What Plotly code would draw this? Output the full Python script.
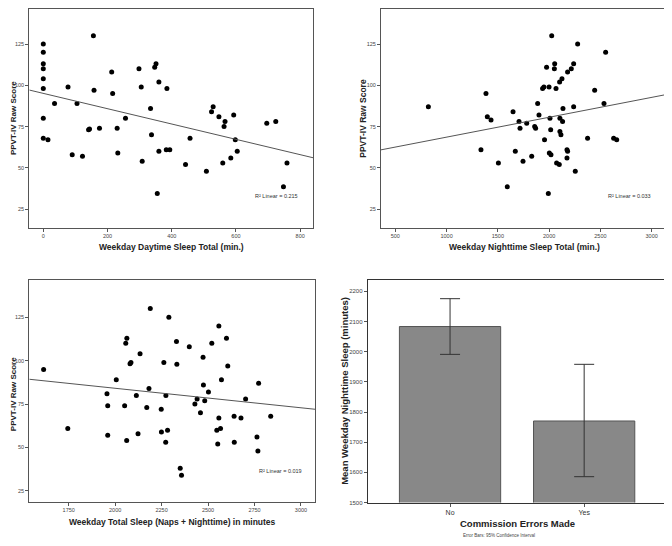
import plotly.graph_objects as go

# ---------------- data ----------------
p1_x = [0, 0, 0, 0, 0, 0, 0, 0, 14.5, 35, 77, 90, 105, 122, 141, 144, 156, 158, 175, 213,
        216, 230, 232, 256, 298, 305, 308, 334, 337, 347, 351, 360, 360, 355, 385, 383, 394,
        443, 457, 508, 524, 529, 547, 563, 566, 559, 584, 593, 598, 604, 696, 724, 759, 748]
p1_y = [125, 120, 113, 110, 104, 98, 80, 68, 67, 89, 99, 58, 89, 57, 73, 73.5, 130, 97, 74, 108,
        95, 74, 59, 80, 110, 99, 54, 86, 70, 111, 113, 102, 60, 34.5, 98, 61, 61,
        52, 68, 48, 84, 87, 81, 75, 78, 53, 56, 82, 67, 60, 77, 78, 53, 38.5]

p2_x = [822, 1384, 1335, 1397, 1433, 1505, 1592, 1648, 1670, 1706, 1716, 1745, 1781, 1830,
        1859, 1868, 1888, 1901, 1936, 1949, 1955, 1975, 1999, 1992, 2008, 2002, 2018, 2015,
        2025, 2051, 2054, 2067, 2073, 2099, 2102, 2105, 2105, 2115, 2125, 2131, 2135, 2174,
        2180, 2174, 2180, 2216, 2239, 2239, 2255, 2278, 2375, 2444, 2535, 2551, 2629, 2659]
p2_y = [87, 95, 61, 81, 79, 53, 38.5, 84, 60, 78, 74, 54, 77, 57,
        75, 74, 89, 82, 98, 99, 67, 111, 99, 34.5, 80, 59, 58, 73,
        130, 110, 113, 98, 53, 52, 102, 80, 72, 70, 104, 78, 86, 61,
        60, 56, 108, 110, 113, 87, 48, 125, 68, 97, 89, 120, 68, 67]

p3_x = [1615, 1745, 1956, 1960, 1960, 2006, 2051, 2057, 2063, 2062, 2080, 2085, 2114, 2123,
        2134, 2170, 2182, 2189, 2248, 2249, 2262, 2273, 2272, 2282, 2289, 2330, 2332, 2350,
        2357, 2399, 2429, 2441, 2459, 2473, 2475, 2482, 2502, 2520, 2547, 2552, 2558, 2567,
        2558, 2572, 2599, 2606, 2640, 2641, 2677, 2702, 2763, 2768, 2772, 2837]
p3_y = [95, 61, 81, 74, 57, 89, 74, 110, 113, 54, 98.3, 99, 80, 58,
        104, 73, 84, 130, 72, 59, 99, 80, 53, 60, 125, 111, 98, 38,
        34, 108, 75, 78, 70, 102, 86, 77, 82, 110, 60, 52, 67, 61,
        120, 89, 113, 97, 68, 53, 67, 78, 56, 48, 87, 68]

# linear fits (intercept, slope) and R²
fit1 = (95.1, -0.0464)
fit2 = (56.56, 0.01204)
fit3 = (106.6, -0.01124)
r2_labels = ["0.215", "0.033", "0.019"]

bar_cats = ["No", "Yes"]
bar_means = [2083.5, 1770.3]
bar_upper = [2175.8, 1958.2]
bar_lower = [1991.2, 1585.7]

x_titles = ["Weekday Daytime Sleep Total (min.)",
            "Weekday Nighttime Sleep Total (min.)",
            "Weekday Total Sleep (Naps + Nighttime) in minutes",
            "Commission Errors Made"]
y_title_scatter = "PPVT-IV Raw Score"
y_title_bar = "Mean Weekday Nighttime Sleep (minutes)"
footnote = "Error Bars: 95% Confidence Interval"

# ---------------- layout geometry ----------------
# the page body has an 8px margin, so the figure is drawn 8px in from the top-left
OFF = 8
W, H = 672 - OFF, 546 - OFF
FONT = "Liberation Sans, Arial, sans-serif"


def px_dom_x(a, b):
    return [(a - OFF) / W, (b - OFF) / W]


def px_dom_y(top, bottom):
    return [1 - (bottom - OFF) / H, 1 - (top - OFF) / H]


panels = {
    1: dict(x=px_dom_x(29.3, 313.0), y=px_dom_y(8.7, 229.0), xr=[-43.6, 840], yr=[13.7, 146.4]),
    2: dict(x=px_dom_x(381.0, 665.3), y=px_dom_y(8.7, 229.0), xr=[360, 3133], yr=[13.7, 146.4]),
    3: dict(x=px_dom_x(29.3, 315.3), y=px_dom_y(281.3, 504.3), xr=[1538, 3077], yr=[18.9, 146.6]),
    4: dict(x=px_dom_x(367.7, 665.3), y=px_dom_y(281.3, 505.3), xr=[-0.614, 1.605], yr=[1500, 2238.5]),
}

fig = go.Figure()

scatter_sets = [(p1_x, p1_y, fit1), (p2_x, p2_y, fit2), (p3_x, p3_y, fit3)]
for i, (xs, ys, (b0, b1)) in enumerate(scatter_sets, start=1):
    xa = "x" if i == 1 else f"x{i}"
    ya = "y" if i == 1 else f"y{i}"
    fig.add_trace(go.Scatter(x=xs, y=ys, mode="markers", xaxis=xa, yaxis=ya,
                             marker=dict(color="black", size=5, line=dict(width=0)),
                             showlegend=False, hoverinfo="skip"))
    xr = panels[i]["xr"]
    fig.add_trace(go.Scatter(x=xr, y=[b0 + b1 * v for v in xr], mode="lines",
                             xaxis=xa, yaxis=ya, line=dict(color="#555555", width=1),
                             showlegend=False, hoverinfo="skip"))

fig.add_trace(go.Bar(x=[0, 1], y=bar_means, xaxis="x4", yaxis="y4", width=0.755,
                     marker=dict(color="#888888", line=dict(color="#555555", width=1)),
                     error_y=dict(type="data", symmetric=False,
                                  array=[u - m for u, m in zip(bar_upper, bar_means)],
                                  arrayminus=[m - l for m, l in zip(bar_means, bar_lower)],
                                  color="#333333", thickness=1, width=10),
                     showlegend=False, hoverinfo="skip"))

axis_common = dict(showgrid=False, zeroline=False, showline=True, mirror=True,
                   linecolor="#555555", linewidth=1, ticks="outside", ticklen=3,
                   tickcolor="#555555", tickfont=dict(family=FONT, size=5.5, color="#444444"))

layout = dict(width=W, height=H, margin=dict(l=0, r=0, t=0, b=0),
              paper_bgcolor="white", plot_bgcolor="white", showlegend=False,
              font=dict(family=FONT))

xticks = {1: [0, 200, 400, 600, 800], 2: [500, 1000, 1500, 2000, 2500, 3000],
          3: [1750, 2000, 2250, 2500, 2750, 3000]}
for i in (1, 2, 3):
    key = "" if i == 1 else str(i)
    layout[f"xaxis{key}"] = dict(axis_common, domain=panels[i]["x"], range=panels[i]["xr"],
                                 tickvals=xticks[i], anchor="y" + key)
    layout[f"yaxis{key}"] = dict(axis_common, domain=panels[i]["y"], range=panels[i]["yr"],
                                 tickvals=[25, 50, 75, 100, 125], anchor="x" + key)

layout["xaxis4"] = dict(axis_common, domain=panels[4]["x"], range=panels[4]["xr"],
                        tickvals=[0, 1], ticktext=bar_cats, anchor="y4",
                        linecolor="#333333", tickfont=dict(family=FONT, size=7, color="#333333"))
layout["yaxis4"] = dict(axis_common, domain=panels[4]["y"], range=panels[4]["yr"],
                        tickvals=list(range(1500, 2201, 100)), anchor="x4",
                        linecolor="#333333", tickfont=dict(family=FONT, size=6, color="#444444"))

fig.update_layout(**layout)

ann = []


def add_text(text, x, y, size, bold=True, angle=0, color="#222222"):
    t = f"<b>{text}</b>" if bold else text
    ann.append(dict(text=t, x=(x - OFF) / W, y=1 - (y - OFF) / H, xref="paper", yref="paper",
                    showarrow=False, textangle=angle, xanchor="center", yanchor="middle",
                    font=dict(family=FONT, size=size, color=color)))


add_text(x_titles[0], 171.7, 248, 8.5)
add_text(x_titles[1], 524, 248, 8.5)
add_text(x_titles[2], 172.3, 524.7, 8.5)
add_text(x_titles[3], 517, 526.3, 9.5)
add_text(y_title_scatter, 13, 118.7, 8, angle=-90)
add_text(y_title_scatter, 362.7, 118.7, 8.5, angle=-90)
add_text(y_title_scatter, 13, 396.3, 8, angle=-90)
add_text(y_title_bar, 345, 393, 9.5, angle=-90)
add_text(footnote, 499, 538.7, 4.5, bold=False, color="#444444")

r2_pos = [(1, 0.87, 0.145), (2, 0.873, 0.145), (3, 0.877, 0.136)]
for (i, dx, dy), val in zip(r2_pos, r2_labels):
    key = "" if i == 1 else str(i)
    ann.append(dict(text=f"R² Linear = {val}", x=dx, y=dy,
                    xref=f"x{key} domain", yref=f"y{key} domain", showarrow=False,
                    xanchor="center", yanchor="middle",
                    font=dict(family=FONT, size=5.5, color="#333333")))

fig.update_layout(annotations=ann)
fig.write_html("out.html")
